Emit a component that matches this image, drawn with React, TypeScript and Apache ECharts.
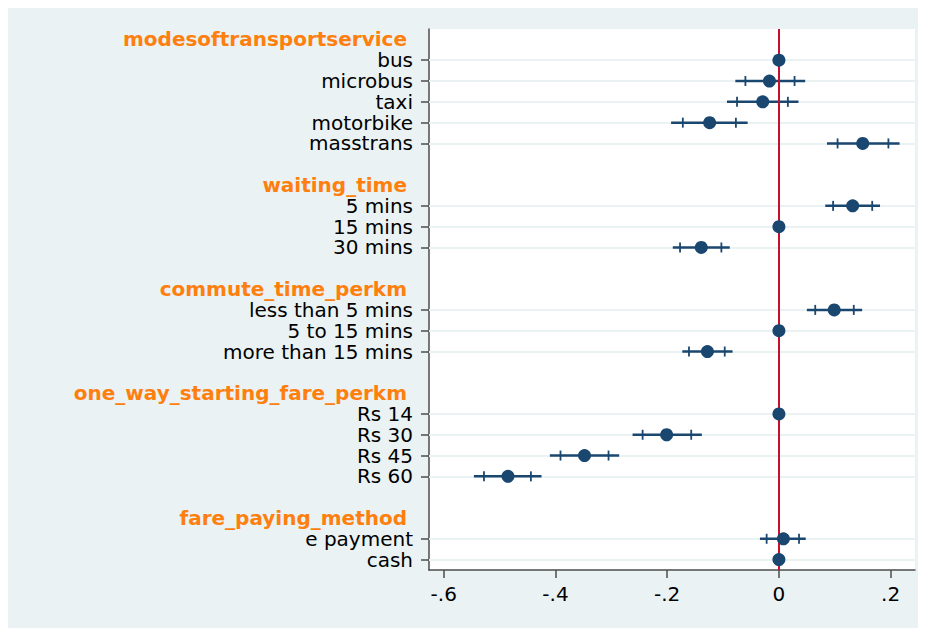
import React, { useEffect, useRef } from "react";
import * as echarts from "echarts";

const groups = [
  "modesoftransportservice",
  "waiting_time",
  "commute_time_perkm",
  "one_way_starting_fare_perkm",
  "fare_paying_method",
];
const categories = [
  "bus", "microbus", "taxi", "motorbike", "masstrans",
  "5 mins", "15 mins", "30 mins",
  "less than 5 mins", "5 to 15 mins", "more than 15 mins",
  "Rs 14", "Rs 30", "Rs 45", "Rs 60",
  "e payment", "cash",
];
const groupOf = [0, 0, 0, 0, 0, 1, 1, 1, 2, 2, 2, 3, 3, 3, 3, 4, 4];
const estimates = [0, -0.017, -0.029, -0.124, 0.150, 0.132, 0, -0.139, 0.099, 0, -0.128, 0, -0.201, -0.348, -0.485, 0.008, 0];
const ciOuterLow = [null, -0.078, -0.093, -0.193, 0.086, 0.083, null, -0.190, 0.050, null, -0.173, null, -0.262, -0.410, -0.546, -0.034, null];
const ciOuterHigh = [null, 0.047, 0.035, -0.056, 0.216, 0.181, null, -0.088, 0.149, null, -0.083, null, -0.138, -0.286, -0.425, 0.048, null];
const ciInnerLow = [null, -0.060, -0.075, -0.172, 0.105, 0.097, null, -0.177, 0.065, null, -0.161, null, -0.244, -0.391, -0.528, -0.022, null];
const ciInnerHigh = [null, 0.028, 0.016, -0.077, 0.196, 0.167, null, -0.103, 0.134, null, -0.097, null, -0.157, -0.305, -0.444, 0.036, null];
const xTicks = [-0.6, -0.4, -0.2, 0, 0.2];

const NAVY = "#1a476f";
const ORANGE = "#ff7f0e";
const BG = "#eaf2f3";
const RED = "#c8102e";

export default function App() {
  const ref = useRef<HTMLDivElement>(null);
  useEffect(() => {
    if (!ref.current) return;
    const chart = echarts.init(ref.current, null, { renderer: "svg" });

    // build row layout: header, items, blank
    const rowText: string[] = [];
    const rowIsHeader: boolean[] = [];
    const itemRow: number[] = [];
    groups.forEach((g, gi) => {
      if (gi > 0) { rowText.push(""); rowIsHeader.push(false); }
      rowText.push(g); rowIsHeader.push(true);
      categories.forEach((c, ci) => {
        if (groupOf[ci] === gi) {
          itemRow[ci] = rowText.length;
          rowText.push(c); rowIsHeader.push(false);
        }
      });
    });
    const nRows = rowText.length;
    const headerRows = rowText.map((_, i) => i).filter((i) => rowIsHeader[i]);
    const itemRows = categories.map((_, ci) => itemRow[ci]);

    const errData = categories
      .map((_, ci) => [ciOuterLow[ci], itemRow[ci], ciOuterHigh[ci], ciInnerLow[ci], ciInnerHigh[ci]])
      .filter((d) => d[0] !== null);

    const fmtX = (v: number) => {
      if (Math.abs(v) < 1e-9) return "0";
      const s = String(Math.abs(v)).replace(/^0/, "");
      return (v < 0 ? "-" : "") + s;
    };

    chart.setOption({
      animation: false,
      backgroundColor: BG,
      textStyle: { fontFamily: "DejaVu Sans" },
      grid: {
        left: 421, top: 21, right: 11, bottom: 58,
        show: true, backgroundColor: "#ffffff", borderWidth: 0,
      },
      xAxis: {
        type: "value",
        min: -0.6264,
        max: 0.2436,
        axisLine: { show: true, onZero: false, lineStyle: { color: "#4d4d4d", width: 1.5 } },
        axisTick: { show: true, length: 8, customValues: xTicks, lineStyle: { color: "#4d4d4d", width: 1.5 } },
        axisLabel: {
          customValues: xTicks,
          formatter: fmtX,
          color: "#000",
          fontSize: 20,
          fontFamily: "DejaVu Sans",
          margin: 14,
        },
        splitLine: { show: false },
      },
      yAxis: {
        type: "value",
        inverse: true,
        min: -0.5,
        max: nRows - 0.5,
        axisLine: { show: true, onZero: false, lineStyle: { color: "#4d4d4d", width: 1.5 } },
        axisTick: { show: true, length: 8, customValues: itemRows, lineStyle: { color: "#4d4d4d", width: 1.5 } },
        axisLabel: {
          customValues: [...headerRows, ...itemRows].sort((a, b) => a - b),
          formatter: (v: number) => {
            const i = Math.round(v);
            return rowIsHeader[i] ? `{h|${rowText[i]}}` : rowText[i];
          },
          color: "#000",
          fontSize: 20,
          lineHeight: 19,
          fontFamily: "DejaVu Sans",
          margin: 16,
          rich: {
            h: {
              color: ORANGE,
              fontWeight: "bold",
              fontSize: 20,
              lineHeight: 19,
              fontFamily: "DejaVu Sans",
              padding: [0, 6, 0, 0],
            },
          },
        },
        splitLine: { show: false },
      },
      series: [
        {
          type: "line",
          data: [],
          z: 1,
          silent: true,
          markLine: {
            silent: true,
            z: 1,
            symbol: "none",
            label: { show: false },
            emphasis: { disabled: true },
            lineStyle: { color: BG, width: 2, type: "solid" },
            data: itemRows.map((r) => ({ yAxis: r })),
          },
        },
        {
          type: "custom",
          z: 3,
          silent: true,
          data: errData,
          encode: { x: [0, 2, 3, 4], y: 1 },
          renderItem: (params: any, api: any) => {
            const y = api.value(1);
            const a = api.coord([api.value(0), y]);
            const b = api.coord([api.value(2), y]);
            const c = api.coord([api.value(3), y]);
            const d = api.coord([api.value(4), y]);
            const st = { stroke: NAVY, lineWidth: 2.5 };
            const tk = { stroke: NAVY, lineWidth: 1.8 };
            return {
              type: "group",
              children: [
                { type: "line", shape: { x1: a[0], y1: a[1], x2: b[0], y2: b[1] }, style: st },
                { type: "line", shape: { x1: c[0], y1: c[1] - 5, x2: c[0], y2: c[1] + 5 }, style: tk },
                { type: "line", shape: { x1: d[0], y1: d[1] - 5, x2: d[0], y2: d[1] + 5 }, style: tk },
              ],
            };
          },
        },
        {
          type: "line",
          data: [],
          z: 3.5,
          silent: true,
          markLine: {
            silent: true,
            z: 3.5,
            symbol: "none",
            label: { show: false },
            emphasis: { disabled: true },
            lineStyle: { color: RED, width: 2, type: "solid" },
            data: [{ xAxis: 0 }],
          },
        },
        {
          type: "scatter",
          z: 4,
          symbol: "circle",
          symbolSize: 13,
          itemStyle: { color: NAVY, opacity: 1 },
          data: categories.map((_, ci) => [estimates[ci], itemRow[ci]]),
        },
      ],
    });
    return () => chart.dispose();
  }, []);
  return <div ref={ref} style={{ width: 918, height: 620 }} />;
}
